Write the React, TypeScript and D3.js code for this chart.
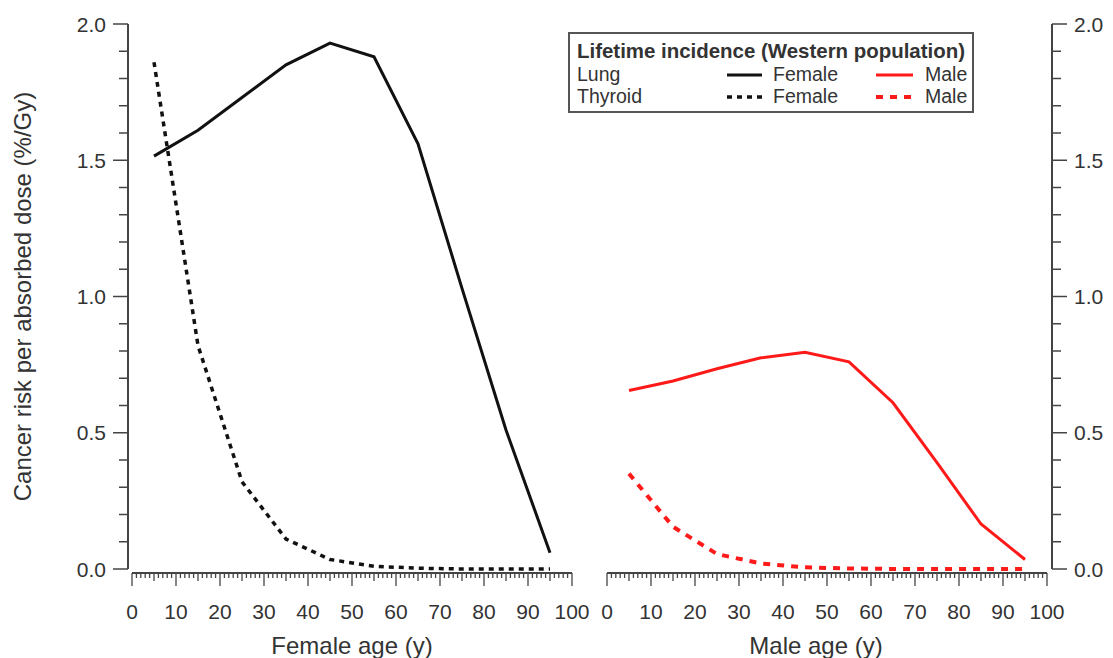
import * as d3 from "d3";

// ages at which the risk is given (midpoints of 10-year bands)
const ages = [5, 15, 25, 35, 45, 55, 65, 75, 85, 95];
const femaleLung = [1.515, 1.61, 1.73, 1.85, 1.93, 1.88, 1.56, 1.03, 0.51, 0.06];
const femaleThyroid = [1.86, 0.82, 0.32, 0.11, 0.035, 0.01, 0.003, 0.0, 0.0, 0.0];
const maleLung = [0.655, 0.69, 0.735, 0.775, 0.795, 0.76, 0.61, 0.39, 0.165, 0.035];
const maleThyroid = [0.35, 0.155, 0.055, 0.02, 0.006, 0.002, 0.0, 0.0, 0.0, 0.0];

const yTickLabels = ["0.0", "0.5", "1.0", "1.5", "2.0"];
const xTickValues = d3.range(0, 101, 10);

const W = 1113;
const H = 658;
const FONT = "'Liberation Sans', Arial, sans-serif";
const TXT = "#333";
const AX = "#444";
const RED = "#ff1a1a";

const xL = d3.scaleLinear().domain([0, 100]).range([132, 572]);
const xR = d3.scaleLinear().domain([0, 100]).range([607, 1047]);
const y = d3.scaleLinear().domain([0, 2]).range([569, 24]);

function XAxis({ x, yPos }) {
  const minor = d3.range(0, 101, 1);
  return (
    <g>
      <line x1={x(0)} x2={x(100)} y1={yPos} y2={yPos} stroke={AX} strokeWidth={2} />
      {minor.map((v) => {
        const len = v % 10 === 0 ? 13 : v % 5 === 0 ? 8 : 5;
        return <line key={v} x1={x(v)} x2={x(v)} y1={yPos} y2={yPos + len} stroke={AX} strokeWidth={1.3} />;
      })}
      {xTickValues.map((v) => (
        <text key={v} x={x(v)} y={yPos + 46} textAnchor="middle" fontSize={21} fill={TXT} fontFamily={FONT}>
          {v}
        </text>
      ))}
    </g>
  );
}

function YAxis({ xPos, side }) {
  const minor = d3.range(0, 21, 1).map((i) => i / 10);
  const dir = side === "left" ? -1 : 1;
  return (
    <g>
      <line x1={xPos} x2={xPos} y1={y(2)} y2={y(0)} stroke={AX} strokeWidth={2} />
      {minor.map((v, i) => {
        const len = i % 5 === 0 ? 15 : 9;
        return <line key={i} x1={xPos} x2={xPos + dir * len} y1={y(v)} y2={y(v)} stroke={AX} strokeWidth={1.5} />;
      })}
      {yTickLabels.map((t) => (
        <text
          key={t}
          x={xPos + dir * 22}
          y={y(+t)}
          dy="0.36em"
          textAnchor={side === "left" ? "end" : "start"}
          fontSize={21}
          fill={TXT}
          fontFamily={FONT}
        >
          {t}
        </text>
      ))}
    </g>
  );
}

export default function App() {
  const pts = (vals) => ages.map((a, i) => [a, vals[i]]);
  const lineL = d3.line().x((d) => xL(d[0])).y((d) => y(d[1]));
  const lineR = d3.line().x((d) => xR(d[0])).y((d) => y(d[1]));

  const lx = 569;
  const ly = 33;

  return (
    <svg width={W} height={H} style={{ position: "absolute", left: 0, top: 0, background: "#fff" }}>
      <YAxis xPos={128} side="left" />
      <YAxis xPos={1052} side="right" />
      <XAxis x={xL} yPos={573} />
      <XAxis x={xR} yPos={573} />

      <path d={lineL(pts(femaleLung))} fill="none" stroke="#111" strokeWidth={3} />
      <path d={lineL(pts(femaleThyroid))} fill="none" stroke="#111" strokeWidth={3.5} strokeDasharray="5 5" />
      <path d={lineR(pts(maleLung))} fill="none" stroke={RED} strokeWidth={3} />
      <path d={lineR(pts(maleThyroid))} fill="none" stroke={RED} strokeWidth={4} strokeDasharray="7 7" />

      <text
        transform={`translate(31, ${y(1)}) rotate(-90)`}
        textAnchor="middle"
        fontSize={24}
        fill={TXT}
        fontFamily={FONT}
      >
        Cancer risk per absorbed dose (%/Gy)
      </text>
      <text x={xL(50)} y={654} textAnchor="middle" fontSize={24} fill={TXT} fontFamily={FONT}>
        Female age (y)
      </text>
      <text x={xR(47.5)} y={654} textAnchor="middle" fontSize={24} fill={TXT} fontFamily={FONT}>
        Male age (y)
      </text>

      <g fontFamily={FONT} fill={TXT}>
        <rect x={lx} y={ly} width={404} height={79} fill="#fff" stroke="#555" strokeWidth={2} />
        <text x={lx + 8} y={ly + 25} fontSize={20.5} fontWeight="bold" textLength={388} lengthAdjust="spacingAndGlyphs">
          Lifetime incidence (Western population)
        </text>
        <text x={lx + 8} y={ly + 48} fontSize={19.5}>Lung</text>
        <text x={lx + 8} y={ly + 70} fontSize={19.5}>Thyroid</text>
        <line x1={727} x2={762} y1={ly + 42} y2={ly + 42} stroke="#111" strokeWidth={3} />
        <line x1={727} x2={762} y1={ly + 64} y2={ly + 64} stroke="#111" strokeWidth={3.5} strokeDasharray="5 5" />
        <line x1={876} x2={913} y1={ly + 42} y2={ly + 42} stroke={RED} strokeWidth={3} />
        <line x1={876} x2={913} y1={ly + 64} y2={ly + 64} stroke={RED} strokeWidth={4} strokeDasharray="7 7" />
        <text x={773} y={ly + 48} fontSize={19.5}>Female</text>
        <text x={773} y={ly + 70} fontSize={19.5}>Female</text>
        <text x={925} y={ly + 48} fontSize={19.5}>Male</text>
        <text x={925} y={ly + 70} fontSize={19.5}>Male</text>
      </g>
    </svg>
  );
}
